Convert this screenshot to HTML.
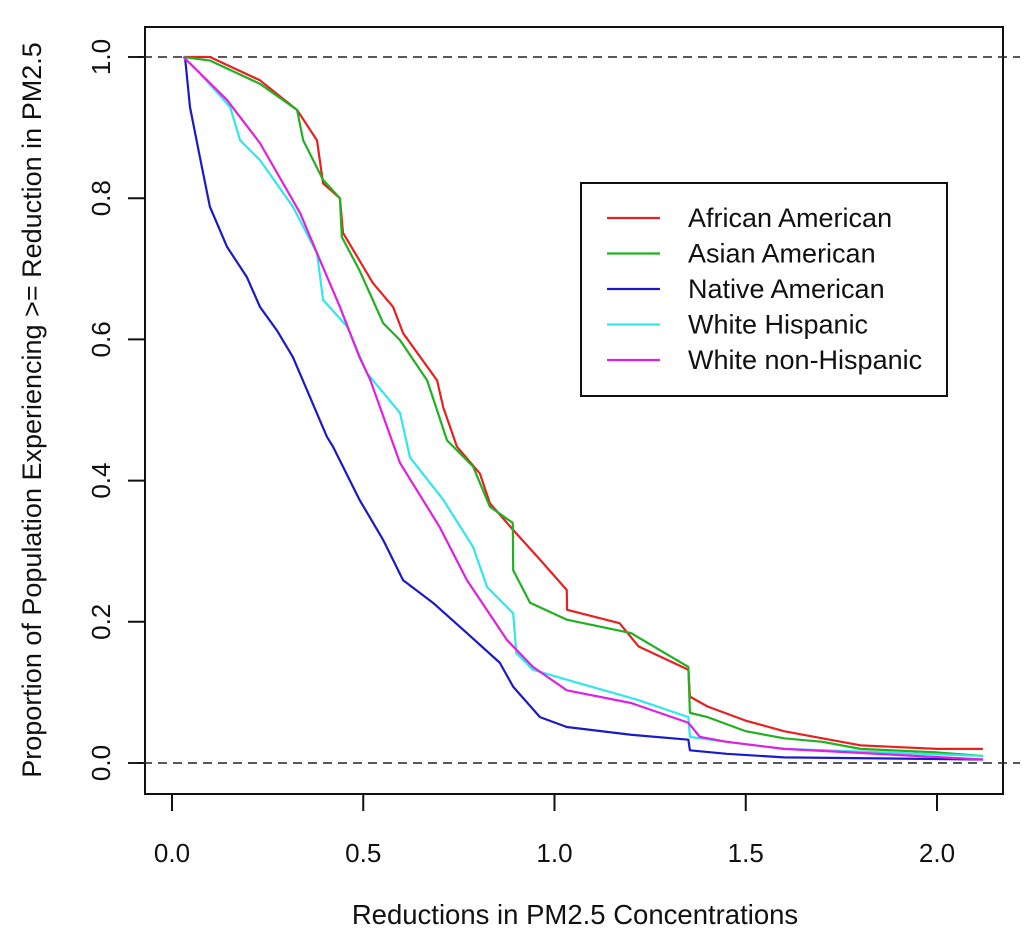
<!DOCTYPE html>
<html><head><meta charset="utf-8"><style>
body{margin:0;background:#fff;}
svg text{font-family:"Liberation Sans",sans-serif;fill:#111;}
</style></head><body>
<svg id="chart" width="1024" height="938" viewBox="0 0 1024 938" xmlns="http://www.w3.org/2000/svg">
<rect x="0" y="0" width="1024" height="938" fill="#fff"/>
<rect x="145" y="27" width="858" height="767" fill="none" stroke="#111" stroke-width="2"/>
<g id="axes"></g>
<g id="series"></g>
<text x="575" y="924" font-size="27.5" text-anchor="middle">Reductions in PM2.5 Concentrations</text>
<text transform="translate(41,410) rotate(-90)" font-size="27" text-anchor="middle">Proportion of Population Experiencing &gt;= Reduction in PM2.5</text>
<g>
<rect x="581" y="183" width="366" height="213" fill="#fff" stroke="#111" stroke-width="2"/>
<g id="legend-items"></g>
</g>
</svg>
<script>
const xTicks=[0,0.5,1,1.5,2];
const xTickLabels=["0.0","0.5","1.0","1.5","2.0"];
const yTicks=[0,0.2,0.4,0.6,0.8,1];
const yTickLabels=["0.0","0.2","0.4","0.6","0.8","1.0"];
const seriesNames=["African American","Asian American","Native American","White Hispanic","White non-Hispanic"];
const seriesColors=["#e82020","#20b020","#1a1ac8","#30e8e8","#e020e0"];
const africanX=[0.03,0.099,0.23,0.327,0.379,0.395,0.439,0.447,0.525,0.578,0.604,0.693,0.709,0.745,0.805,0.831,0.892,0.962,1.032,1.033,1.17,1.22,1.35,1.354,1.4,1.5,1.6,1.7,1.8,2.0,2.12];
const africanY=[1,1,0.967,0.925,0.882,0.821,0.80,0.751,0.68,0.646,0.609,0.542,0.504,0.448,0.41,0.368,0.33,0.288,0.245,0.217,0.198,0.165,0.132,0.094,0.08,0.06,0.045,0.035,0.025,0.02,0.02];
const asianX=[0.03,0.099,0.23,0.327,0.343,0.395,0.439,0.444,0.49,0.552,0.596,0.667,0.719,0.787,0.831,0.891,0.892,0.936,1.032,1.2,1.35,1.354,1.4,1.5,1.6,1.7,1.8,2.0,2.12];
const asianY=[1,0.995,0.962,0.925,0.882,0.826,0.80,0.745,0.698,0.623,0.599,0.542,0.457,0.42,0.363,0.34,0.273,0.227,0.203,0.184,0.136,0.071,0.065,0.045,0.035,0.03,0.02,0.015,0.01];
const nativeX=[0.034,0.047,0.073,0.099,0.144,0.196,0.23,0.274,0.316,0.361,0.405,0.421,0.49,0.552,0.604,0.682,0.771,0.857,0.892,0.962,1.032,1.2,1.35,1.354,1.45,1.6,2.12];
const nativeY=[1,0.929,0.858,0.788,0.731,0.688,0.646,0.613,0.575,0.518,0.462,0.448,0.373,0.316,0.259,0.227,0.184,0.142,0.108,0.065,0.051,0.04,0.033,0.018,0.013,0.008,0.005];
const hispX=[0.03,0.073,0.152,0.178,0.23,0.316,0.379,0.395,0.458,0.51,0.596,0.622,0.709,0.787,0.824,0.892,0.90,0.944,1.032,1.22,1.35,1.354,1.45,1.6,2.12];
const hispY=[1,0.977,0.929,0.882,0.854,0.788,0.722,0.656,0.618,0.552,0.496,0.433,0.373,0.306,0.249,0.212,0.156,0.132,0.118,0.089,0.065,0.037,0.03,0.02,0.01];
const whiteX=[0.03,0.144,0.23,0.335,0.387,0.439,0.49,0.518,0.596,0.70,0.771,0.876,0.944,1.032,1.2,1.35,1.38,1.45,1.6,2.12];
const whiteY=[1,0.939,0.878,0.779,0.712,0.646,0.575,0.543,0.425,0.334,0.259,0.174,0.136,0.103,0.085,0.057,0.037,0.03,0.02,0.005];
const allX=[africanX,asianX,nativeX,hispX,whiteX];
const allY=[africanY,asianY,nativeY,hispY,whiteY];
const seriesKeys=["african-american","asian-american","native-american","white-hispanic","white-non-hispanic"];

const NS="http://www.w3.org/2000/svg";
const sx=v=>172+v*382.5;
const sy=v=>763-v*706;
function mk(tag,attrs,parent){const e=document.createElementNS(NS,tag);for(const k in attrs)e.setAttribute(k,attrs[k]);parent.appendChild(e);return e;}
const axes=document.getElementById('axes');
xTicks.forEach((t,i)=>{
  const l=mk('line',{x1:sx(t),x2:sx(t),y1:794,y2:811,stroke:'#111','stroke-width':2},axes);
  
  
  const tx=mk('text',{x:sx(t),y:862,'font-size':26,'text-anchor':'middle'},axes);
  tx.textContent=xTickLabels[i];
  
  
});
yTicks.forEach((t,i)=>{
  const l=mk('line',{x1:128,x2:145,y1:sy(t),y2:sy(t),stroke:'#111','stroke-width':2},axes);
  
  
  const tx=mk('text',{transform:`translate(110,${sy(t)}) rotate(-90)`,'font-size':26,'text-anchor':'middle'},axes);
  tx.textContent=yTickLabels[i];
  
  
});
[0,1].forEach(v=>{
  const l=mk('line',{x1:128,x2:1020,y1:sy(v),y2:sy(v),stroke:'#222','stroke-width':1.6,'stroke-dasharray':'9,6'},axes);
  
  
});
const sg=document.getElementById('series');
allX.forEach((xs,s)=>{
  const ys=allY[s];
  let d=`M${sx(xs[0])},${sy(ys[0])}`;
  for(let i=1;i<xs.length;i++){d+=` L${sx(xs[i])},${sy(ys[i])}`;}
  const p=mk('path',{d:d,fill:'none',stroke:seriesColors[s],'stroke-width':2.2,'stroke-linejoin':'round'},sg);
  
  
});
const lg=document.getElementById('legend-items');
seriesNames.forEach((n,i)=>{
  const y=218+i*35.5;
  const l=mk('line',{x1:607,x2:660,y1:y,y2:y,stroke:seriesColors[i],'stroke-width':2.2},lg);
  
  
  const t=mk('text',{x:688,y:y+9,'font-size':27},lg);
  t.textContent=n;
  
  
});
</script>
</body></html>
